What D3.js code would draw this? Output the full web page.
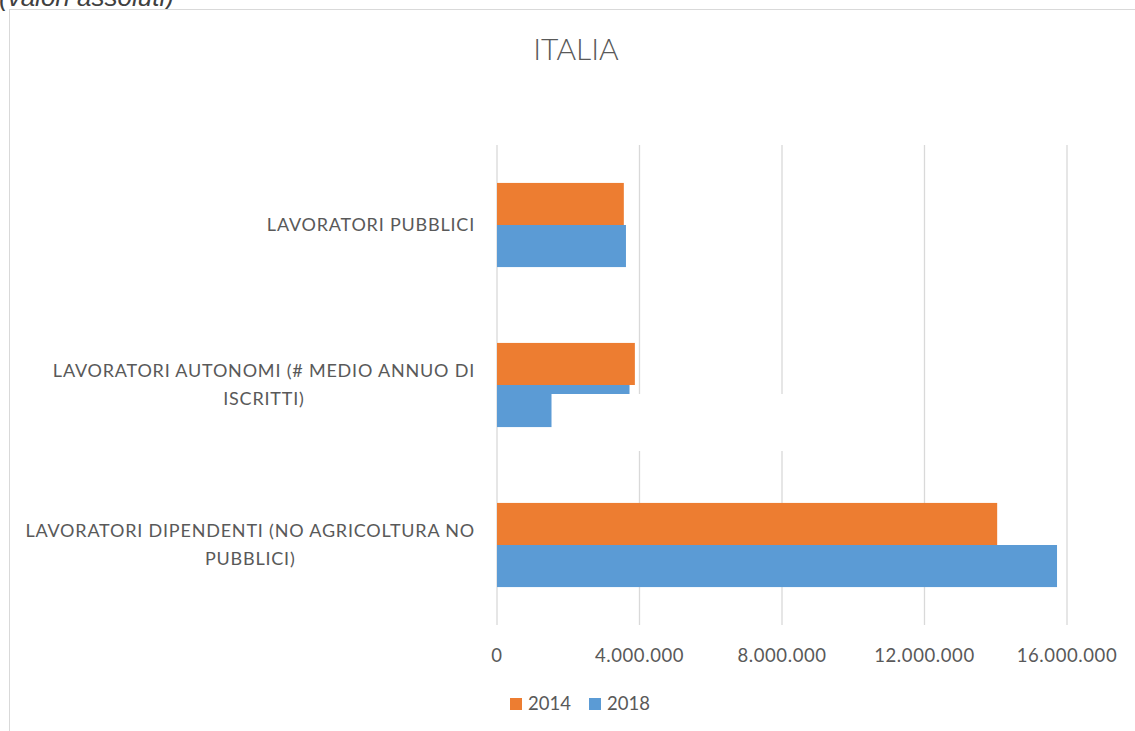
<!DOCTYPE html>
<html lang="it">
<head>
<meta charset="UTF-8">
<title>Italia</title>
<script src="https://cdn.jsdelivr.net/npm/d3@7"></script>
<style>
    body { margin: 0; background: #fff; }
    svg { display: block; font-family: Lato, "Open Sans", sans-serif; }
</style>
</head>
<body>
<div id="chart"></div>
<script>
// categories top -> bottom, "\n" marks the line break used in the label
var categories = [
    "LAVORATORI PUBBLICI",
    "LAVORATORI AUTONOMI (# MEDIO ANNUO DI\nISCRITTI)",
    "LAVORATORI DIPENDENTI (NO AGRICOLTURA NO\nPUBBLICI)"
];
var series = ["2014", "2018"];
var values2014 = [3560000, 3870000, 14040000];
var values2018 = [3620000, 3720000, 15720000];
var colors = ["#ed7d31", "#5b9bd5"];
var xTicks = [0, 4000000, 8000000, 12000000, 16000000];

// part of the picture is covered by a white patch (autonomi, 2018)
var patchFrom = 1530000, patchTo = 10000000;

var width = 1135, height = 731;

var svg = d3.select("#chart").append("svg")
    .attr("width", width)
    .attr("height", height);

// cut-off heading above the chart frame
svg.append("text")
    .attr("x", -1)
    .attr("y", 6)
    .attr("font-family", "'Liberation Sans', Arial, sans-serif")
    .attr("font-style", "italic")
    .attr("font-size", 26)
    .attr("fill", "#404040")
    .text("(valori assoluti)");

// chart frame (runs past the right and bottom edge)
svg.append("rect")
    .attr("x", 9.5).attr("y", 9.5)
    .attr("width", 1140).attr("height", 740)
    .attr("fill", "#fff")
    .attr("stroke", "#d9d9d9");

svg.append("text")
    .attr("x", 576)
    .attr("y", 60)
    .attr("text-anchor", "middle")
    .attr("font-size", 30)
    .attr("font-weight", 300)
    .attr("fill", "#595959")
    .text("ITALIA");

var x = d3.scaleLinear().domain([0, 16000000]).range([497, 1067]);
var y = d3.scaleBand().domain(categories).range([145, 625])
    .paddingInner(0.474).paddingOuter(0.237);
var ys = d3.scaleBand().domain(series).range([0, y.bandwidth()]);

var it = d3.formatLocale({decimal: ",", thousands: ".", grouping: [3], currency: ["€", ""]});
var fmt = it.format(",");

// gridlines
svg.append("g").selectAll("line")
    .data(xTicks)
    .join("line")
    .attr("x1", function (d) { return x(d); })
    .attr("x2", function (d) { return x(d); })
    .attr("y1", 145).attr("y2", 625)
    .attr("stroke", "#d9d9d9")
    .attr("stroke-width", 1.3);

// bars
var rows = categories.map(function (c, i) {
    return {cat: c, vals: [values2014[i], values2018[i]]};
});

var groups = svg.append("g").selectAll("g")
    .data(rows)
    .join("g")
    .attr("transform", function (d) { return "translate(0," + y(d.cat) + ")"; });

groups.selectAll("rect")
    .data(function (d) { return d.vals.map(function (v, j) { return {s: series[j], v: v, j: j}; }); })
    .join("rect")
    .attr("x", x(0))
    .attr("y", function (d) { return ys(d.s); })
    .attr("width", function (d) { return x(d.v) - x(0); })
    .attr("height", ys.bandwidth())
    .attr("fill", function (d) { return colors[d.j]; });

// white patch
svg.append("rect")
    .attr("x", x(patchFrom))
    .attr("y", y(categories[1]) + ys("2018") + 9)
    .attr("width", x(patchTo) - x(patchFrom))
    .attr("height", 57)
    .attr("fill", "#fff");

// category labels, lines centred on the widest line, right edge at 475
var labels = svg.append("g").selectAll("text")
    .data(categories)
    .join("text")
    .attr("font-size", 18)
    .attr("letter-spacing", 0.8)
    .attr("fill", "#595959")
    .attr("text-anchor", "middle");

labels.each(function (c) {
    var t = d3.select(this);
    var lines = c.split("\n");
    var lh = 28;
    var cy = y(c) + y.bandwidth() / 2;
    lines.forEach(function (l, k) {
        t.append("tspan")
            .attr("y", cy + (k - (lines.length - 1) / 2) * lh)
            .attr("dy", "0.35em")
            .text(l);
    });
    var maxW = 0;
    t.selectAll("tspan").each(function () {
        maxW = Math.max(maxW, this.getComputedTextLength());
    });
    t.selectAll("tspan").attr("x", 475 - maxW / 2);
});

// x axis labels
svg.append("g").selectAll("text")
    .data(xTicks)
    .join("text")
    .attr("x", function (d) { return x(d); })
    .attr("y", 656)
    .attr("dy", "0.35em")
    .attr("text-anchor", "middle")
    .attr("font-size", 18.5)
    .attr("letter-spacing", 0.6)
    .attr("fill", "#595959")
    .text(function (d) { return fmt(d); });

// legend
var leg = svg.append("g").attr("transform", "translate(510,698)");
var li = leg.selectAll("g")
    .data(series)
    .join("g")
    .attr("transform", function (d, i) { return "translate(" + (i * 79) + ",0)"; });
li.append("rect")
    .attr("width", 12).attr("height", 12)
    .attr("fill", function (d, i) { return colors[i]; });
li.append("text")
    .attr("x", 18).attr("y", 6)
    .attr("dy", "0.35em")
    .attr("font-size", 18.5)
    .attr("fill", "#595959")
    .text(function (d) { return d; });
</script>
</body>
</html>
